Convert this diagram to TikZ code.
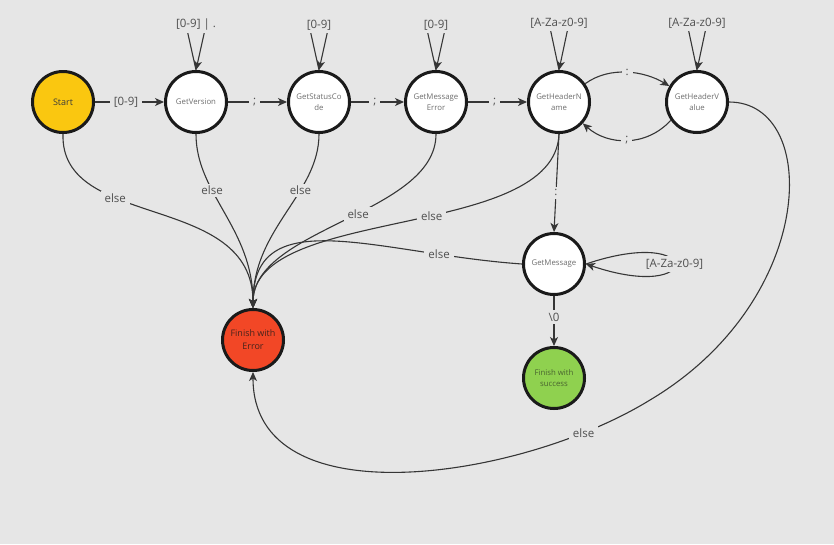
\documentclass[tikz,border=0pt]{standalone}
\usepackage{fontspec}
\setmainfont{Open Sans}
\usetikzlibrary{arrows.meta}

\definecolor{bg}{HTML}{E6E6E6}
\definecolor{ink}{HTML}{1A1A1A}
\definecolor{wire}{HTML}{363636}
\definecolor{labeltext}{HTML}{505050}
\definecolor{nodetext}{HTML}{6E6E6E}
\definecolor{startfill}{HTML}{FAC710}
\definecolor{errfill}{HTML}{F24726}
\definecolor{okfill}{HTML}{8FD14F}

\begin{document}
\begin{tikzpicture}[x=1pt,y=-1pt,
  state/.style={circle,draw=ink,line width=3pt,minimum size=61pt,inner sep=0pt,
    align=center,fill=white,text=nodetext,font=\fontsize{7.8}{10.5}\selectfont},
  edge/.style={draw=wire,line width=1.1pt,-{Stealth[length=9pt,width=8pt,inset=2.5pt]}},
  lbl/.style={fill=bg,inner xsep=4pt,inner ysep=2.5pt,text=labeltext,font=\fontsize{11.5}{13}\selectfont}]

% canvas
\fill[bg] (0,0) rectangle (834,544);
\useasboundingbox (0,0) rectangle (834,544);

% states
\node[state,fill=startfill,text=ink!85,font=\fontsize{9}{11}\selectfont] (s) at (63,102) {Start};
\node[state] (v)  at (196,102) {GetVersion};
\node[state] (sc) at (319,102) {GetStatusCo\\de};
\node[state] (me) at (436,102) {GetMessage\\Error};
\node[state] (hn) at (559,102) {GetHeaderN\\ame};
\node[state] (hv) at (697,102) {GetHeaderV\\alue};
\node[state] (gm) at (554,264) {GetMessage};
\node[state,fill=errfill,text=ink!80!errfill,font=\fontsize{9}{13}\selectfont] (err) at (253,340) {Finish with\\Error};
\node[state,fill=okfill,text=ink!60!okfill,font=\fontsize{7.8}{11}\selectfont] (ok) at (554,378) {Finish with\\success};

% main chain
\draw[edge] (s)  -- (v)  node[lbl,pos=.45] {[0-9]};
\draw[edge] (v)  -- (sc) node[lbl,pos=.45] {;};
\draw[edge] (sc) -- (me) node[lbl,pos=.45] {;};
\draw[edge] (me) -- (hn) node[lbl,pos=.45] {;};

% self loops above the states
\draw[edge] (v.north)  -- ++(-10,-45) -- ++(20,0) node[lbl,pos=.5] {[0-9] | .} -- (v.north);
\draw[edge] (sc.north) -- ++(-10,-45) -- ++(20,0) node[lbl,pos=.5] {[0-9]} -- (sc.north);
\draw[edge] (me.north) -- ++(-10,-45) -- ++(20,0) node[lbl,pos=.5] {[0-9]} -- (me.north);
\draw[edge] (hn.north) -- ++(-10,-47) -- ++(20,0) node[lbl,pos=.5] {[A-Za-z0-9]} -- (hn.north);
\draw[edge] (hv.north) -- ++(-10,-47) -- ++(20,0) node[lbl,pos=.5] {[A-Za-z0-9]} -- (hv.north);

% header name / value
\draw[edge] (hn.35) .. controls +(25,-18) and +(-25,-15) .. (hv.150) node[lbl,pos=.5] {:};
\draw[edge] (hv.215) .. controls +(-25,27) and +(25,22) .. (hn.318) node[lbl,pos=.5] {;};
\draw[edge] (hn.south) -- (gm.north) node[lbl,pos=.6] {:};

% message body
\draw[edge] (gm.east) .. controls +(118,-40) and +(118,40) .. (gm.east) node[lbl,pos=.5] {[A-Za-z0-9]};
\draw[edge] (gm) -- (ok) node[lbl,pos=.42] {\textbackslash 0};

% error transitions
\draw[edge] (s.south)  .. controls +(-3,97) and +(0,-117) .. (err.north) node[lbl,pos=.35] {else};
\draw[edge] (v.south)  .. controls +(0,60)  and +(0,-80)  .. (err.north) node[lbl,pos=.35] {else};
\draw[edge] (sc.south) .. controls +(0,60)  and +(0,-80)  .. (err.north) node[lbl,pos=.35] {else};
\draw[edge] (me.south) .. controls +(0,80)  and +(0,-80)  .. (err.north) node[lbl,pos=.45] {else};
\draw[edge] (hn.south) .. controls +(-4,107) and +(0,-103) .. (err.north) node[lbl,pos=.44] {else};
\draw[edge] (gm.west)  .. controls +(-143,-10) and +(0,-108) .. (err.north) node[lbl,pos=.2] {else};

\coordinate (bend) at (650,400);
\draw[edge] (hv.east) .. controls +(92,0) and (818,300) .. (bend)
  .. controls +(-130,80) and +(0,148) .. (err.south) node[lbl,pos=.15] {else};
\end{tikzpicture}
\end{document}
